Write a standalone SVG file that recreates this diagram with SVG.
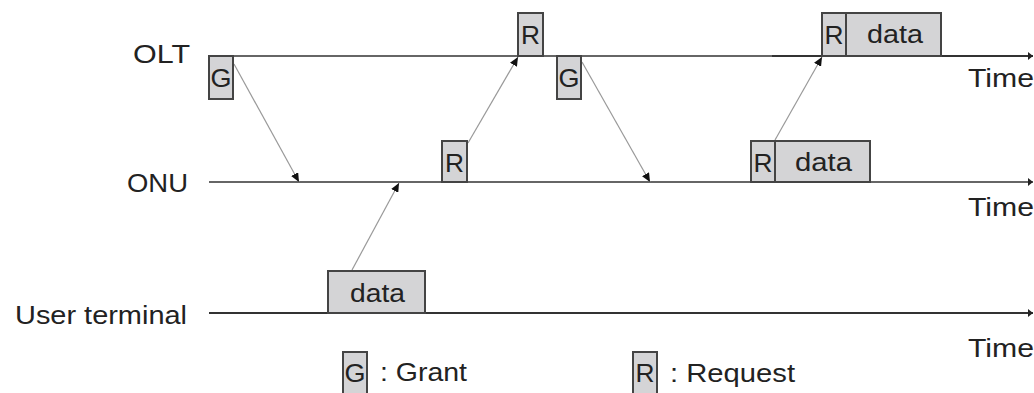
<svg xmlns="http://www.w3.org/2000/svg" width="1034" height="393" viewBox="0 0 1034 393">
<defs>
<style>
.lbl{font-family:"Liberation Sans",Arial,sans-serif;font-size:26px;fill:#222}
.box{fill:#d4d4d6;stroke:#444;stroke-width:2}
.axis{stroke:#666;stroke-width:2;fill:none}
.axisd{stroke:#333;stroke-width:2;fill:none}
.conn{stroke:#999;stroke-width:1.2;fill:none;marker-end:url(#ah)}
</style>
<marker id="ah" markerUnits="userSpaceOnUse" markerWidth="10" markerHeight="8" refX="9" refY="4" orient="auto">
<path d="M0,0 L9,4 L0,8 z" fill="#111"/>
</marker>
<marker id="ax" markerUnits="userSpaceOnUse" markerWidth="6" markerHeight="8" refX="5" refY="4" orient="auto">
<path d="M0,0 L5,4 L0,8 z" fill="#222"/>
</marker>
</defs>
<rect width="1034" height="393" fill="#fff"/>

<g id="timelines">
<line class="axis" x1="209" y1="56" x2="772" y2="56"/>
<line class="axisd" x1="772" y1="56" x2="1033" y2="56" marker-end="url(#ax)"/>
<line class="axis" x1="209" y1="182" x2="1033" y2="182" marker-end="url(#ax)"/>
<line class="axisd" x1="209" y1="313" x2="1033" y2="313" marker-end="url(#ax)"/>
</g>

<g id="labels">
<text class="lbl" x="133" y="63" textLength="57" lengthAdjust="spacingAndGlyphs">OLT</text>
<text class="lbl" x="127" y="192" textLength="61" lengthAdjust="spacingAndGlyphs">ONU</text>
<text class="lbl" x="15" y="324" textLength="172" lengthAdjust="spacingAndGlyphs">User terminal</text>
<text class="lbl" x="968" y="87" textLength="66" lengthAdjust="spacingAndGlyphs">Time</text>
<text class="lbl" x="968" y="216" textLength="66" lengthAdjust="spacingAndGlyphs">Time</text>
<text class="lbl" x="968" y="357" textLength="66" lengthAdjust="spacingAndGlyphs">Time</text>
</g>

<g id="connectors">
<line class="conn" x1="234" y1="64" x2="299" y2="182"/>
<line class="conn" x1="352" y1="270" x2="399" y2="183"/>
<line class="conn" x1="468" y1="143" x2="518" y2="57"/>
<line class="conn" x1="582" y1="62" x2="650" y2="182"/>
<line class="conn" x1="775" y1="140" x2="822" y2="57"/>
</g>

<g id="olt-grant-1">
<rect class="box" x="209" y="56" width="24" height="43"/>
<text class="lbl" x="221" y="87" text-anchor="middle" textLength="21" lengthAdjust="spacingAndGlyphs">G</text>
</g>
<g id="olt-request-1">
<rect class="box" x="518" y="13" width="25" height="43"/>
<text class="lbl" x="530.5" y="44" text-anchor="middle" textLength="19" lengthAdjust="spacingAndGlyphs">R</text>
</g>
<g id="olt-grant-2">
<rect class="box" x="557" y="56" width="24" height="43"/>
<text class="lbl" x="569" y="87" text-anchor="middle" textLength="21" lengthAdjust="spacingAndGlyphs">G</text>
</g>
<g id="olt-request-data">
<rect class="box" x="822" y="13" width="24" height="43"/>
<rect class="box" x="846" y="13" width="95" height="43"/>
<text class="lbl" x="834" y="44" text-anchor="middle" textLength="19" lengthAdjust="spacingAndGlyphs">R</text>
<text class="lbl" x="867" y="43" textLength="56" lengthAdjust="spacingAndGlyphs">data</text>
</g>

<g id="onu-request-1">
<rect class="box" x="442" y="141" width="25" height="41"/>
<text class="lbl" x="454.5" y="172" text-anchor="middle" textLength="19" lengthAdjust="spacingAndGlyphs">R</text>
</g>
<g id="onu-request-data">
<rect class="box" x="751" y="141" width="24" height="41"/>
<rect class="box" x="775" y="141" width="95" height="41"/>
<text class="lbl" x="763" y="172" text-anchor="middle" textLength="19" lengthAdjust="spacingAndGlyphs">R</text>
<text class="lbl" x="795" y="171" textLength="57" lengthAdjust="spacingAndGlyphs">data</text>
</g>

<g id="user-data">
<rect class="box" x="328" y="271" width="97" height="42"/>
<text class="lbl" x="350" y="302" textLength="55" lengthAdjust="spacingAndGlyphs">data</text>
</g>

<g id="legend-grant">
<rect class="box" x="343" y="352" width="24" height="44"/>
<text class="lbl" x="355" y="382" text-anchor="middle" textLength="21" lengthAdjust="spacingAndGlyphs">G</text>
<text class="lbl" x="380" y="381" textLength="87" lengthAdjust="spacingAndGlyphs">: Grant</text>
</g>
<g id="legend-request">
<rect class="box" x="633" y="352" width="24" height="44"/>
<text class="lbl" x="645" y="382" text-anchor="middle" textLength="19" lengthAdjust="spacingAndGlyphs">R</text>
<text class="lbl" x="670" y="382" textLength="125" lengthAdjust="spacingAndGlyphs">: Request</text>
</g>
</svg>
